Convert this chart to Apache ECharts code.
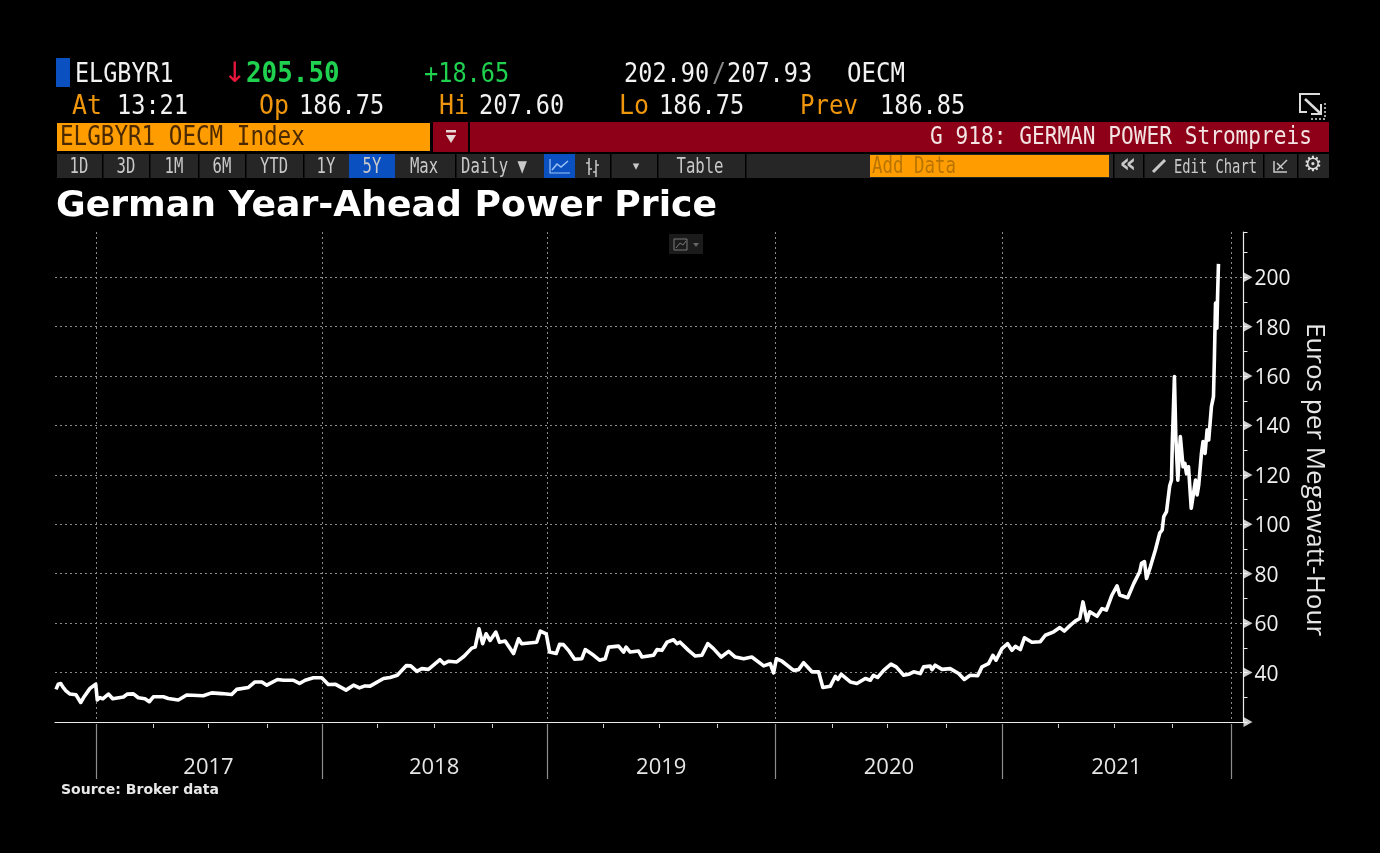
<!DOCTYPE html>
<html><head><meta charset="utf-8">
<style>html,body{margin:0;padding:0;background:#000}#c{width:1380px;height:853px}</style>
<script src="https://cdn.jsdelivr.net/npm/echarts@6/dist/echarts.min.js"></script>
</head><body><div id="c"></div>
<script>
// decimal years
const years = [2016.828,2016.838,2016.849,2016.858,2016.863,2016.872,2016.890,2016.916,2016.937,2016.949,2016.978,2017.003,2017.010,2017.022,2017.034,2017.059,2017.078,2017.125,2017.143,2017.169,2017.191,2017.220,2017.239,2017.257,2017.301,2017.323,2017.367,2017.404,2017.477,2017.514,2017.558,2017.602,2017.624,2017.676,2017.705,2017.735,2017.757,2017.804,2017.830,2017.874,2017.901,2017.926,2017.962,2017.999,
2018.028,2018.058,2018.106,2018.139,2018.165,2018.190,2018.212,2018.271,2018.300,2018.332,2018.371,2018.391,2018.418,2018.440,2018.469,2018.476,2018.520,2018.538,2018.557,2018.594,2018.626,2018.660,2018.675,2018.692,2018.708,2018.723,2018.741,2018.766,2018.782,2018.807,2018.844,2018.866,2018.880,2018.946,2018.962,2018.988,
2019.003,2019.032,2019.047,2019.064,2019.086,2019.113,2019.145,2019.160,2019.197,2019.223,2019.248,2019.263,2019.307,2019.329,2019.340,2019.358,2019.395,2019.410,2019.461,2019.476,2019.498,2019.520,2019.549,2019.564,2019.578,2019.615,2019.645,2019.674,2019.700,2019.725,2019.759,2019.792,2019.821,2019.858,2019.894,2019.946,2019.975,2019.990,
2020.002,2020.027,2020.078,2020.100,2020.122,2020.159,2020.188,2020.207,2020.240,2020.262,2020.273,2020.288,2020.328,2020.357,2020.394,2020.416,2020.430,2020.448,2020.475,2020.507,2020.530,2020.563,2020.585,2020.607,2020.636,2020.651,2020.680,2020.688,2020.702,2020.732,2020.768,2020.805,2020.830,2020.856,2020.889,2020.908,2020.937,2020.956,2020.970,2020.996,
2021.021,2021.040,2021.055,2021.077,2021.095,2021.128,2021.165,2021.187,2021.224,2021.251,2021.271,2021.298,2021.320,2021.339,2021.353,2021.361,2021.371,2021.383,2021.415,2021.437,2021.456,2021.481,2021.503,2021.515,2021.550,2021.577,2021.603,2021.611,2021.624,2021.633,2021.650,2021.672,2021.691,2021.702,2021.709,2021.721,2021.735,2021.743,2021.747,2021.756,2021.762,2021.771,2021.782,2021.788,2021.794,2021.802,2021.809,2021.818,2021.830,2021.837,2021.849,2021.856,2021.863,2021.875,2021.882,2021.891,2021.900,2021.907,2021.919,2021.928,2021.932,2021.937,2021.943,2021.946,2021.950];
// euros per MWh
const prices = [33.2,35.3,35.6,34.2,35.0,32.6,31.3,31.0,27.9,29.8,33.6,35.3,28.9,29.9,29.4,31.3,29.4,30.1,31.3,31.4,29.8,29.4,28.2,30.2,30.2,29.5,28.9,30.9,30.6,31.8,31.5,31.1,33.2,34.0,36.2,36.2,34.9,37.2,36.9,36.9,35.6,36.9,37.9,37.9,
35.2,35.3,32.9,34.9,33.8,34.6,34.5,37.6,38.0,38.9,42.8,42.7,40.5,41.6,41.3,40.9,45.2,43.6,44.6,44.3,46.6,49.9,50.3,57.7,51.7,55.7,53.0,56.4,52.3,52.8,47.7,53.7,51.7,52.3,56.8,55.7,
48.3,47.7,51.4,51.3,49.0,45.4,45.6,49.3,47.0,45.0,45.6,50.3,50.7,48.3,50.3,48.3,48.7,46.3,47.0,49.3,49.0,52.3,53.3,51.7,52.3,49.0,46.7,47.0,51.7,49.7,46.3,48.6,46.3,45.6,46.3,42.7,43.6,39.9,
45.6,44.6,40.9,41.2,44.0,40.3,40.3,34.0,34.5,38.5,37.2,39.3,36.2,35.6,37.6,36.9,38.9,38.0,40.9,43.4,42.3,38.9,39.3,40.3,39.6,42.3,42.6,41.2,43.0,41.3,41.6,39.6,37.2,38.9,38.7,42.3,43.6,47.0,45.0,49.7,
51.7,49.0,50.6,49.3,54.1,52.3,52.5,55.1,56.5,58.2,56.8,59.2,60.9,61.9,68.6,68.0,60.9,64.6,62.8,65.9,65.3,71.4,75.1,71.4,70.3,76.1,80.8,84.2,84.9,78.1,82.8,89.6,96.4,97.7,103.1,105.1,115.5,117.9,134.1,159.8,135.5,117.9,135.5,135.5,123.3,124.7,120.6,123.3,106.5,106.5,117.9,111.9,115.9,128.7,133.5,128.7,138.2,134.1,147.6,151.7,167,189.5,179.4,192.2,205.4];
// axis divisions as they sit on the picture's trading-day scale
const yearTicks = [2017.004,2018.002,2018.994,2019.996,2020.997,2022.007];
const quarterTicks = [2017.256,2017.498,2017.758,2018.244,2018.494,2018.750,2019.240,2019.487,2019.743,2020.247,2020.490,2020.751,2021.243,2021.489,2021.746];
const yearLabels = [2017.5,2018.494,2019.495,2020.498,2021.5];
const yLabelTicks = [20,40,60,80,100,120,140,160,180,200];

const seriesData = years.map((y,i)=>[y,prices[i]]);
const xMin = 2016.8237, xMax = 2022.0603;

// terminal chrome
const MONO = '"DejaVu Sans Mono",monospace';
const ORANGE='#f0960c', WHITE='#f2f2f2', GREEN='#1fd14f', GREY='#c9c9c9';
// text, x, y, colour, weight, pixels per character
const quoteTexts = [
 ['ELGBYR1',75,73,WHITE,'normal',14.1],['205.50',246,73,GREEN,'bold',15.6],['+18.65',424,73,GREEN,'normal',14.2],['202.90',624,73,WHITE,'normal',14.2],['207.93',727,73,WHITE,'normal',14.2],['OECM',847,73,WHITE,'normal',14.5],
 ['At',72,105,ORANGE,'normal',15],['13:21',117,105,WHITE,'normal',14.2],['Op',259,105,ORANGE,'normal',15],['186.75',299,105,WHITE,'normal',14.2],['Hi',439,105,ORANGE,'normal',15],['207.60',479,105,WHITE,'normal',14.2],['Lo',619,105,ORANGE,'normal',15],['186.75',659,105,WHITE,'normal',14.2],['Prev',800,105,ORANGE,'normal',14.5],['186.85',880,105,WHITE,'normal',14.2]];
const barRects = [
 [56,58,14,29,'#0b50c0'],[57,123,373,28,'#ff9d00'],[433,122,35,30,'#8e0018'],[470,122,859,30,'#8e0018'],
 [57,154,1272,24,'#262626'],[349,154,46,24,'#0a50c0'],[544,154,31,24,'#0a50c0'],[870,155,239,22,'#ff9d00'],[669,234,34,20,'#1b1b1b']];
const separators = [102,149,198,245,303,455,610,657,745,1113,1143,1263,1297];
const toolLabels = [['1D',79],['3D',126],['1M',174],['6M',222],['YTD',274],['1Y',326],['5Y',372],['Max',424],['Daily ▼',494],['Table',700]];

const graphic = [];
barRects.forEach(r=>graphic.push({type:'rect',silent:true,shape:{x:r[0],y:r[1],width:r[2],height:r[3]},style:{fill:r[4]}}));
separators.forEach(x=>graphic.push({type:'rect',silent:true,shape:{x:x,y:154,width:1.5,height:24},style:{fill:'#000'}}));
const txt=(t,x,y,fill,size,o={})=>graphic.push({type:'text',silent:true,x:x,y:y+1.5,scaleX:o.adv?o.adv/(size*0.602):1,style:{text:t,fill:fill,font:(o.w||'normal')+' '+size+'px '+(o.f||MONO),textAlign:o.a||'left',textVerticalAlign:'middle'}});
quoteTexts.forEach(q=>txt(q[0],q[1],q[2],q[3],q[4]==='bold'?29:27,{w:q[4],adv:q[5]}));
txt('/',712,73,'#888',27,{adv:14});
txt('↓',223,73,'#e8163c',28,{f:'"DejaVu Sans"'});
txt('ELGBYR1 OECM Index',60,137,'#4a2800',26,{adv:13.6});
txt('G 918: GERMAN POWER Strompreis',1312,136,'#f3e3e3',25,{a:'right',adv:12.73});
txt('Add Data',872,166,'#b97400',23,{adv:10.5});
toolLabels.forEach(l=>txt(l[0],l[1],166,GREY,21,{a:'center',adv:9.4}));
txt('▾',636,165,GREY,13,{a:'center',f:'"DejaVu Sans"'});
txt('«',1128,164,GREY,26,{a:'center',w:'bold',f:'"DejaVu Sans"'});
txt('Edit Chart',1174,166,GREY,20,{adv:8.3});
// button icons
const line=(pts,stroke,w,dash)=>graphic.push({type:'polyline',silent:true,shape:{points:pts},style:{stroke:stroke,lineWidth:w||1.5,fill:'none',lineDash:dash||null}});
line([[550,159],[550,173],[570,173]],'#9dc4f5',1.2);
line([[552,170],[557,164],[561,167],[568,161]],'#9dc4f5',1.5);
line([[589,158],[589,175]],GREY,1.5);line([[596,160],[596,177]],GREY,1.5);
line([[586,163],[589,163]],GREY,1.5);line([[589,169],[592,169]],GREY,1.5);line([[593,172],[596,172]],GREY,1.5);line([[596,165],[599,165]],GREY,1.5);
// red dropdown
graphic.push({type:'rect',silent:true,shape:{x:446,y:130,width:10,height:2.5},style:{fill:'#e8d8d8'}});
graphic.push({type:'polygon',silent:true,shape:{points:[[446,135],[456,135],[451,143]]},style:{fill:'#e8d8d8'}});
// pencil, list, gear
line([[1153,172],[1165,160]],GREY,3);
line([[1274,161],[1274,172],[1287,172]],GREY,1.5);line([[1277,170],[1287,160]],GREY,1.5);line([[1277,163],[1283,169]],GREY,1.5);
txt('⚙',1313,164,'#dcdcdc',21,{a:'center',w:'bold',f:'"DejaVu Sans"'});
// popout icon
line([[1320,94],[1300,94],[1300,112],[1307,112]],'#dcdcdc',2);
line([[1305,99],[1320,113]],'#dcdcdc',2.5);line([[1321,104],[1321,114],[1311,114]],'#dcdcdc',2);
line([[1311,119],[1325,119],[1325,103]],'#dcdcdc',1.5,[2,2]);
// mini chart icon
line([[674,239],[674,250],[687,250],[687,239],[674,239]],'#7a7a7a',1);
line([[676,248],[680,243],[683,245],[686,241]],'#7a7a7a',1);
graphic.push({type:'polygon',silent:true,shape:{points:[[693,243],[699,243],[696,247]]},style:{fill:'#666'}});

const axisWhite='#ececec', gridGrey='#8a8a8a';
const chart = echarts.init(document.getElementById('c'),null,{renderer:'canvas'});
chart.setOption({
 animation:false, backgroundColor:'#000',
 title:[
  {text:'German Year-Ahead Power Price',left:56,top:189,padding:0,textStyle:{color:'#fff',fontFamily:'"DejaVu Sans"',fontWeight:'bold',fontSize:36.2}},
  {text:'Source: Broker data',left:61,top:783,padding:0,textStyle:{color:'#e8e8e8',fontFamily:'"DejaVu Sans"',fontWeight:'bold',fontSize:14}}
 ],
 graphic:graphic,
 grid:[
  {left:55,top:232,width:1188.5,height:490},
  {left:55,top:723,width:1188.5,height:1}
 ],
 xAxis:[
  {type:'value',gridIndex:0,min:xMin,max:xMax,position:'bottom',
   axisLine:{show:true,onZero:false,lineStyle:{color:axisWhite,width:1.2}},
   axisTick:{show:false,customValues:yearTicks},axisLabel:{show:false},
   splitLine:{show:true,lineStyle:{color:gridGrey,type:[2,3],width:1}}},
  {type:'value',gridIndex:1,min:xMin,max:xMax,position:'bottom',
   axisLine:{show:false},axisLabel:{show:false},splitLine:{show:false},
   axisTick:{show:true,customValues:yearTicks,length:55,lineStyle:{color:'#8c8c8c',width:1.2}}},
  {type:'value',gridIndex:1,min:xMin,max:xMax,position:'bottom',
   axisLine:{show:false},splitLine:{show:false},
   axisTick:{show:true,customValues:quarterTicks,length:4,lineStyle:{color:'#cfcfcf',width:1}},
   axisLabel:{show:true,customValues:yearLabels,margin:33,color:'#e6e6e6',fontSize:22,fontFamily:'"Open Sans"',
     formatter:v=>String(Math.floor(v))}}
 ],
 yAxis:[
  {type:'value',gridIndex:0,position:'right',min:20,max:218.3,interval:20,
   name:'Euros per Megawatt-Hour',nameLocation:'middle',nameRotate:-90,nameGap:49,
   nameTextStyle:{color:'#e6e6e6',fontSize:26,fontFamily:'"Open Sans"',padding:[0,0,0,5]},
   axisLine:{show:true,onZero:false,lineStyle:{color:axisWhite,width:1.2}},
   axisTick:{show:true,length:4,lineStyle:{color:axisWhite}},
   minorTick:{show:true,splitNumber:2,length:4,lineStyle:{color:axisWhite}},
   axisLabel:{margin:11,color:'#f0f0f0',fontSize:21,fontFamily:'"Open Sans"',showMinLabel:false,showMaxLabel:false,
     formatter:'{a|{value}}',rich:{a:{color:'#f0f0f0',fontSize:21,fontFamily:'"Open Sans"',padding:[4,0,0,0]}}},
   splitLine:{show:true,showMaxLine:false,lineStyle:{color:gridGrey,type:[2,3],width:1}}},
  {type:'value',gridIndex:1,show:false,min:0,max:1}
 ],
 series:[
  {type:'line',name:'German Year-Ahead Power Price',xAxisIndex:0,yAxisIndex:0,data:seriesData,showSymbol:false,symbol:'none',
   lineStyle:{color:'#fff',width:3.6,join:'round'},smooth:false,z:5},
  {type:'scatter',name:'ticks',xAxisIndex:0,yAxisIndex:0,clip:false,silent:true,symbol:'triangle',symbolRotate:-90,symbolSize:[10,9],symbolOffset:[4.5,0],
   itemStyle:{color:'#fff'},data:yLabelTicks.map(v=>[xMax,v]),z:6}
 ]
});
</script></body></html>
